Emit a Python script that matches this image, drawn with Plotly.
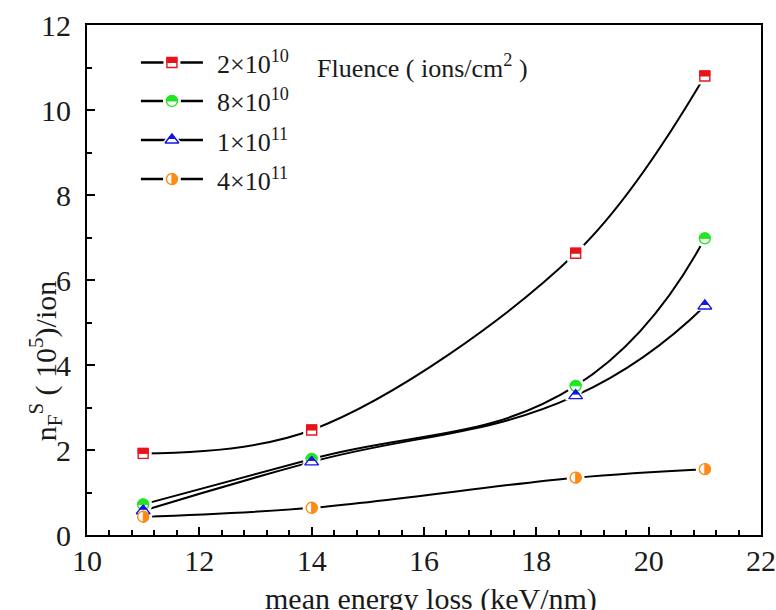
import math
import plotly.graph_objects as go

# Mean energy loss (keV/nm) of the irradiating ions
energy_loss = [11, 14, 18.7, 21]

# n_F^S (10^5 per ion) for each fluence (ions/cm^2)
n_2e10 = [1.92, 2.47, 6.63, 10.8]
n_8e10 = [0.72, 1.79, 3.51, 6.98]
n_1e11 = [0.57, 1.72, 3.28, 5.39]
n_4e11 = [0.43, 0.64, 1.35, 1.55]

fluence_labels = ["2×10<sup>10</sup>", "8×10<sup>10</sup>",
                  "1×10<sup>11</sup>", "4×10<sup>11</sup>"]
legend_title = "Fluence ( ions/cm<sup>2</sup> )"

x_ticks = [10, 12, 14, 16, 18, 20, 22]
y_ticks = [0, 2, 4, 6, 8, 10, 12]

FONT = "Liberation Serif, DejaVu Serif, Times New Roman, serif"
TXT = "#1a1a1a"

# style per series: colour, plotly symbol, size, filled half, curve smoothing
styles = [
    dict(color="#e8141c", symbol="square", size=10, half="top", smooth=1.0),
    dict(color="#22e622", symbol="circle", size=11, half="top", smooth=1.3),
    dict(color="#1414e6", symbol="triangle-up", size=12, half="top", smooth=1.3),
    dict(color="#ff8a14", symbol="circle", size=11, half="right", smooth=1.0),
]
series = [n_2e10, n_8e10, n_1e11, n_4e11]

K = 0.5523  # bezier constant for circular arcs


def half_path(symbol, size, half):
    """Pixel-space path (y up) of the filled half of a marker."""
    r = size / 2
    k = K * r
    if symbol == "square":
        return f"M{-r},0 L{r},0 L{r},{r} L{-r},{r} Z"
    if symbol == "triangle-up":
        rt = r * 2 / math.sqrt(3)
        return f"M{-rt / 2},{r / 4} L{rt / 2},{r / 4} L0,{r} Z"
    if half == "top":
        return (f"M{-r},0 C{-r},{k} {-k},{r} 0,{r} "
                f"C{k},{r} {r},{k} {r},0 Z")
    # right half of a circle
    return (f"M0,{r} C{k},{r} {r},{k} {r},0 "
            f"C{r},{-k} {k},{-r} 0,{-r} Z")


def half_shape(xv, yv, st, xref, yref):
    return dict(type="path", xref=xref, yref=yref,
                xsizemode="pixel", ysizemode="pixel",
                xanchor=xv, yanchor=yv,
                path=half_path(st["symbol"], st["size"], st["half"]),
                fillcolor=st["color"],
                line=dict(color=st["color"], width=1),
                layer="above")


fig = go.Figure()
shapes = []

# smooth curves through the points
for ys, st in zip(series, styles):
    fig.add_trace(go.Scatter(x=energy_loss, y=ys, mode="lines",
                             line=dict(color="black", width=2,
                                       shape="spline", smoothing=st["smooth"]),
                             showlegend=False, hoverinfo="skip"))

# white halo so curves stop short of the symbols
for ys, st in zip(series, styles):
    fig.add_trace(go.Scatter(x=energy_loss, y=ys, mode="markers",
                             marker=dict(symbol=st["symbol"], size=st["size"] + 7,
                                         color="white", line=dict(width=0)),
                             showlegend=False, hoverinfo="skip"))

# half-filled symbols: open outline plus a filled half
for ys, st in zip(series, styles):
    fig.add_trace(go.Scatter(x=energy_loss, y=ys, mode="markers",
                             marker=dict(symbol=st["symbol"], size=st["size"],
                                         color="white",
                                         line=dict(color=st["color"], width=1.4)),
                             showlegend=False))
    for xv, yv in zip(energy_loss, ys):
        shapes.append(half_shape(xv, yv, st, "x", "y"))

# legend drawn on an overlay axis pair spanning [0, 1]
leg_x0, leg_x1, leg_xm = 0.080, 0.172, 0.126
leg_rows = [0.9265, 0.851, 0.7745, 0.698]
leg_text_x = 0.190
annotations = []
for row, st, lab in zip(leg_rows, styles, fluence_labels):
    fig.add_trace(go.Scatter(x=[leg_x0, leg_x1], y=[row, row], mode="lines",
                             line=dict(color="black", width=2.5),
                             xaxis="x2", yaxis="y2",
                             showlegend=False, hoverinfo="skip"))
    fig.add_trace(go.Scatter(x=[leg_xm], y=[row], mode="markers",
                             marker=dict(symbol=st["symbol"], size=st["size"] + 7,
                                         color="white", line=dict(width=0)),
                             xaxis="x2", yaxis="y2",
                             showlegend=False, hoverinfo="skip"))
    fig.add_trace(go.Scatter(x=[leg_xm], y=[row], mode="markers",
                             marker=dict(symbol=st["symbol"], size=st["size"],
                                         color="white",
                                         line=dict(color=st["color"], width=1.4)),
                             xaxis="x2", yaxis="y2",
                             showlegend=False, hoverinfo="skip"))
    shapes.append(half_shape(leg_xm, row, st, "x2", "y2"))
    annotations.append(dict(x=leg_text_x, y=row, xref="paper", yref="paper",
                            text=lab, showarrow=False, xanchor="left",
                            yanchor="middle",
                            font=dict(family=FONT, size=26, color=TXT)))

annotations.append(dict(x=0.338, y=0.9195, xref="paper", yref="paper",
                        text=legend_title, showarrow=False, xanchor="left",
                        yanchor="middle",
                        font=dict(family=FONT, size=26, color=TXT)))

# axis titles
annotations.append(dict(x=-0.062, y=0.341, xref="paper", yref="paper",
                        text="n<sub>F</sub><sup>S</sup> ( 10<sup>5</sup>)/ion",
                        textangle=-90, showarrow=False,
                        xanchor="center", yanchor="middle",
                        font=dict(family=FONT, size=30, color=TXT)))
annotations.append(dict(x=0.51, y=-0.125, xref="paper", yref="paper",
                        text="mean energy loss (keV/nm)",
                        showarrow=False, xanchor="center", yanchor="middle",
                        font=dict(family=FONT, size=30, color=TXT)))

axis_common = dict(showline=True, linecolor="black", linewidth=2.2,
                   mirror=True, ticks="inside", ticklen=8, tickwidth=2,
                   tickcolor="black", showgrid=False, zeroline=False,
                   automargin=False,
                   tickfont=dict(family=FONT, size=30, color=TXT))

fig.update_layout(
    width=776, height=610,
    margin=dict(l=87, r=15, t=25, b=75),
    paper_bgcolor="white", plot_bgcolor="white",
    showlegend=False,
    xaxis=dict(range=[10, 22], tickvals=x_ticks,
               minor=dict(dtick=0.4, tick0=10, ticks="inside", ticklen=5,
                          tickwidth=2, tickcolor="black"),
               ticklabelstandoff=-2,
               **axis_common),
    yaxis=dict(range=[0, 12], tickvals=y_ticks,
               minor=dict(dtick=1, tick0=0, ticks="inside", ticklen=5,
                          tickwidth=2, tickcolor="black"),
               ticklabelstandoff=8,
               **axis_common),
    xaxis2=dict(overlaying="x", anchor="y2", range=[0, 1], visible=False,
                fixedrange=True),
    yaxis2=dict(overlaying="y", anchor="x2", range=[0, 1], visible=False,
                fixedrange=True),
    shapes=shapes,
    annotations=annotations,
)

fig.write_html("out.html")
